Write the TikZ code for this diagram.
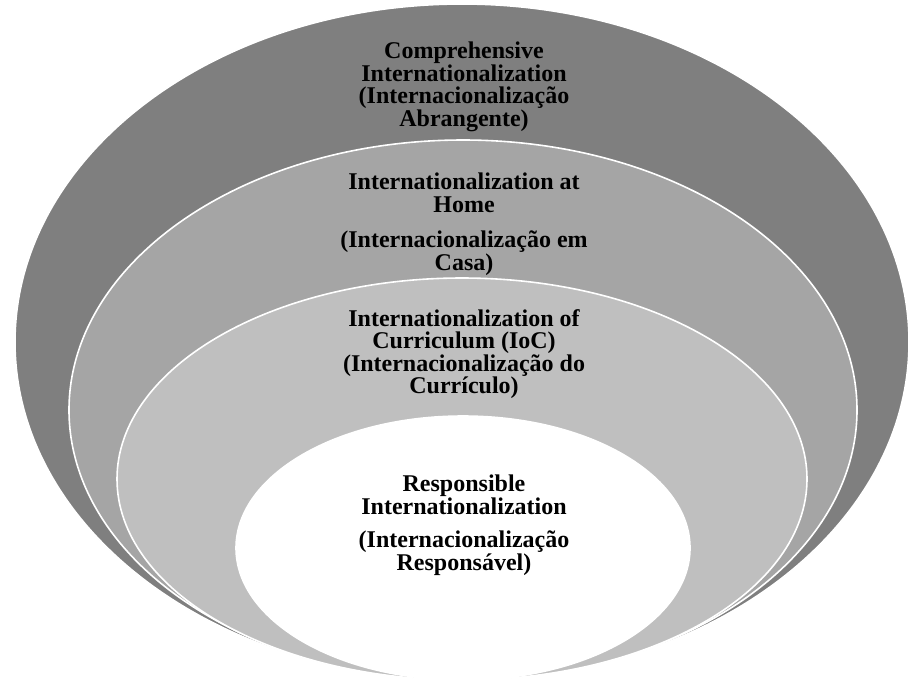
\documentclass[tikz,border=0pt]{standalone}
\usepackage{fontspec}
\setmainfont{Liberation Serif}
\usetikzlibrary{shapes.geometric}
\begin{document}
\begin{tikzpicture}[x=1pt,y=-1pt]
\tikzset{
  ring/.style={ellipse, draw=white, line width=1.6pt, inner sep=0pt},
  lbl/.style={font=\fontsize{24}{22.5}\selectfont\bfseries, align=center, text=black, inner sep=0pt}
}
\useasboundingbox[fill=white] (0,0) rectangle (909,681);
\node[ring, fill={rgb,255:red,127;green,127;blue,127}, minimum width=894pt, minimum height=676pt] (outer) at (462,342) {};
\node[ring, fill={rgb,255:red,165;green,165;blue,165}, minimum width=788pt, minimum height=540pt] (home) at (463,410) {};
\node[ring, fill={rgb,255:red,191;green,191;blue,191}, minimum width=690pt, minimum height=402pt] (ioc) at (462,479) {};
\node[ring, fill=white, minimum width=454pt, minimum height=264pt] (resp) at (463,548) {};

\node[lbl] (t1) at (464,87) {Comprehensive\\Internationalization\\(Internacionalização\\Abrangente)};
\node[lbl] (t2) at (464,224) {Internationalization at\\Home\\[13pt](Internacionalização em\\Casa)};
\node[lbl] (t3) at (464,354) {Internationalization of\\Curriculum (IoC)\\(Internacionalização do\\Currículo)};
\node[lbl] (t4) at (464,525) {Responsible\\Internationalization\\[11pt](Internacionalização\\Responsável)};
\end{tikzpicture}
\end{document}
